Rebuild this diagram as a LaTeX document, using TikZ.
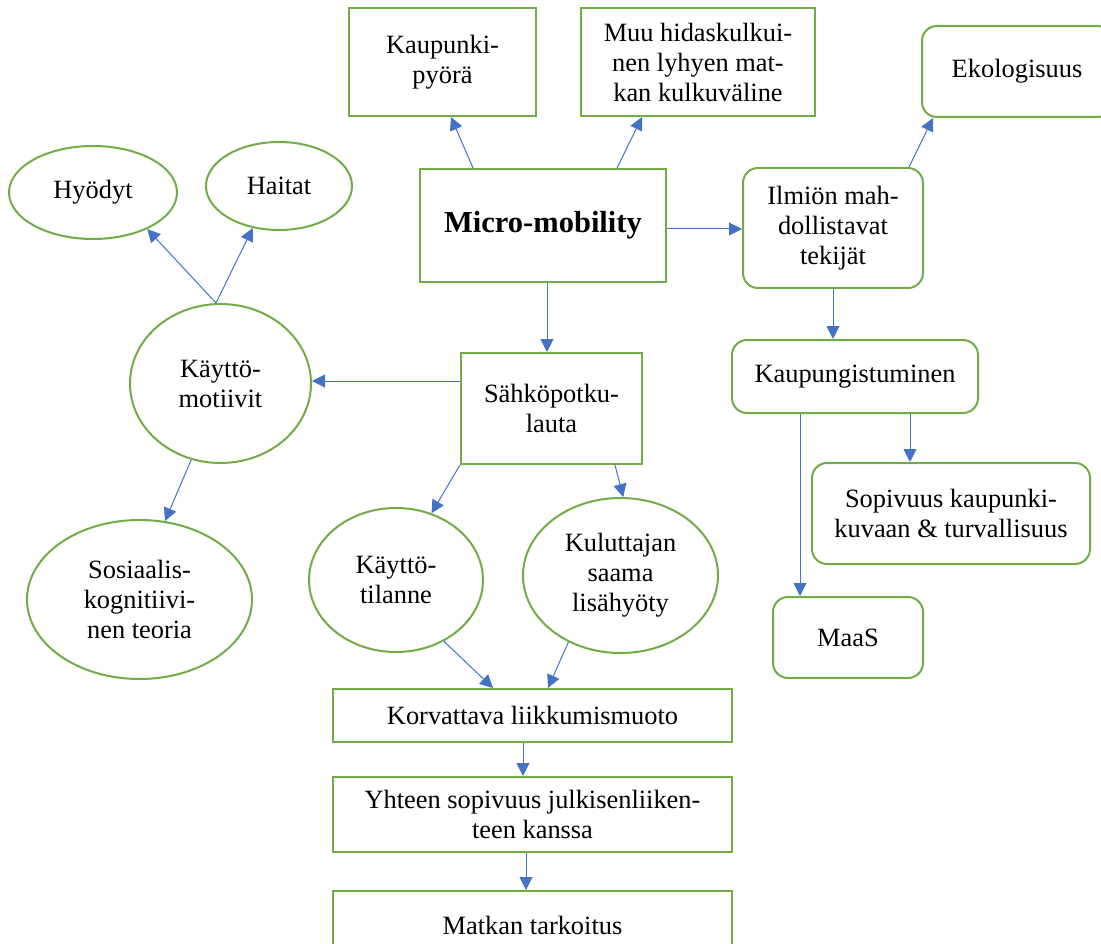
\documentclass[tikz,border=0pt]{standalone}
\usepackage{fontspec}
\setmainfont{Liberation Serif}
\usepackage{tikz}
\usetikzlibrary{shapes.geometric,arrows.meta,calc}
\definecolor{boxgreen}{HTML}{70AD47}
\definecolor{arrowblue}{HTML}{4472C4}

\begin{document}
\begin{tikzpicture}[x=1pt, y=-1pt,
  every node/.style={font=\fontsize{26.4}{30}\selectfont, align=center, inner sep=0pt},
  box/.style={draw=boxgreen, line width=2pt, rectangle},
  rbox/.style={box, rounded corners=15pt},
  oval/.style={draw=boxgreen, line width=2pt, ellipse},
  arr/.style={draw=arrowblue, line width=1pt, -{Triangle[width=13pt,length=13pt]}}]
  \useasboundingbox (0,0) rectangle (1101,944);
  \clip (0,0) rectangle (1101,944);

  % Top row
  \node[box, minimum width=187, minimum height=108] (pyora) at (442.5,62) {Kaupunki-\\pyörä};
  \node[box, minimum width=234, minimum height=108] (muu) at (698,62) {Muu hidaskulkui-\\nen lyhyen mat-\\kan kulkuväline};
  \node[rbox, minimum width=190, minimum height=91] (eko) at (1017,71.5) {Ekologisuus};

  % Centre
  \node[box, minimum width=246, minimum height=113, font=\fontsize{30.5}{34}\selectfont\bfseries] (micro) at (543,225.5) {Micro-mobility};
  \node[rbox, minimum width=180, minimum height=120] (ilmion) at (833,228) {Ilmiön mah-\\dollistavat\\tekijät};
  \node[rbox, minimum width=246, minimum height=73] (kaup) at (855,376.5) {Kaupungistuminen};
  \node[box, minimum width=181, minimum height=111] (sahko) at (551.5,408.5) {Sähköpotku-\\lauta};

  % Left side
  \node[oval, minimum width=168, minimum height=93] (hyodyt) at (93,192.5) {Hyödyt};
  \node[oval, minimum width=146, minimum height=88] (haitat) at (279,186) {Haitat};
  \node[oval, minimum width=181, minimum height=159] (motiivit) at (220.5,383.5) {Käyttö-\\motiivit};
  \node[oval, minimum width=225, minimum height=159] (sosiaal) at (139.5,599.5) {Sosiaalis-\\kognitiivi-\\nen teoria};

  % Below the scooter
  \node[oval, minimum width=174, minimum height=144] (tilanne) at (396,580) {Käyttö-\\tilanne};
  \node[oval, minimum width=195, minimum height=155] (lisahyoty) at (620.5,575.5) {Kuluttajan\\saama\\lisähyöty};

  % Right side
  \node[rbox, minimum width=278, minimum height=101] (sopivuus) at (951,513.5) {Sopivuus kaupunki-\\kuvaan \& turvallisuus};
  \node[rbox, minimum width=150, minimum height=81] (maas) at (848,637.5) {MaaS};

  % Bottom chain
  \node[box, minimum width=399, minimum height=53] (korvattava) at (532.5,715.5) {Korvattava liikkumismuoto};
  \node[box, minimum width=399, minimum height=75] (yhteen) at (532.5,814.5) {Yhteen sopivuus julkisenliiken-\\teen kanssa};
  \node[box, minimum width=399, minimum height=68] (matkan) at (532.5,925) {Matkan tarkoitus};

  % Arrows
  \draw[arr] ([xshift=-70]micro.north) -- ([xshift=8.5]pyora.south);
  \draw[arr] ([xshift=74]micro.north) -- ([xshift=-56]muu.south);
  \draw[arr] ([yshift=-3.5]micro.east) -- ([yshift=-3.5]micro.east -| ilmion.west);
  \draw[arr] ([xshift=76]ilmion.north) -- ([xshift=-84]eko.south);
  \draw[arr] (ilmion.south) -- (ilmion.south |- kaup.north);
  \draw[arr] ([xshift=-55]kaup.south) -- ([xshift=-55]kaup.south |- maas.north);
  \draw[arr] ([xshift=55]kaup.south) -- ([xshift=55]kaup.south |- sopivuus.north);
  \draw[arr] ([xshift=4]micro.south) -- ([xshift=4]micro.south |- sahko.north);
  \draw[arr] ([yshift=27.5]sahko.west) -- ([yshift=27.5]sahko.west -| motiivit.east);
  \draw[arr] ([xshift=-4.5]motiivit.north) -- (hyodyt.-34);
  \draw[arr] ([xshift=-4.5]motiivit.north) -- (haitat.-122);
  \draw[arr] (motiivit.-111) -- (sosiaal.72);
  \draw[arr] (sahko.south west) -- (tilanne.62);
  \draw[arr] ([xshift=63.5]sahko.south) -- (lisahyoty.88);
  \draw[arr] (tilanne.-52) -- ([xshift=-39.5]korvattava.north);
  \draw[arr] (lisahyoty.-128) -- ([xshift=15.5]korvattava.north);
  \draw[arr] ([xshift=-9.5]korvattava.south) -- ([xshift=-9.5]korvattava.south |- yhteen.north);
  \draw[arr] ([xshift=-6.5]yhteen.south) -- ([xshift=-6.5]yhteen.south |- matkan.north);
\end{tikzpicture}
\end{document}
